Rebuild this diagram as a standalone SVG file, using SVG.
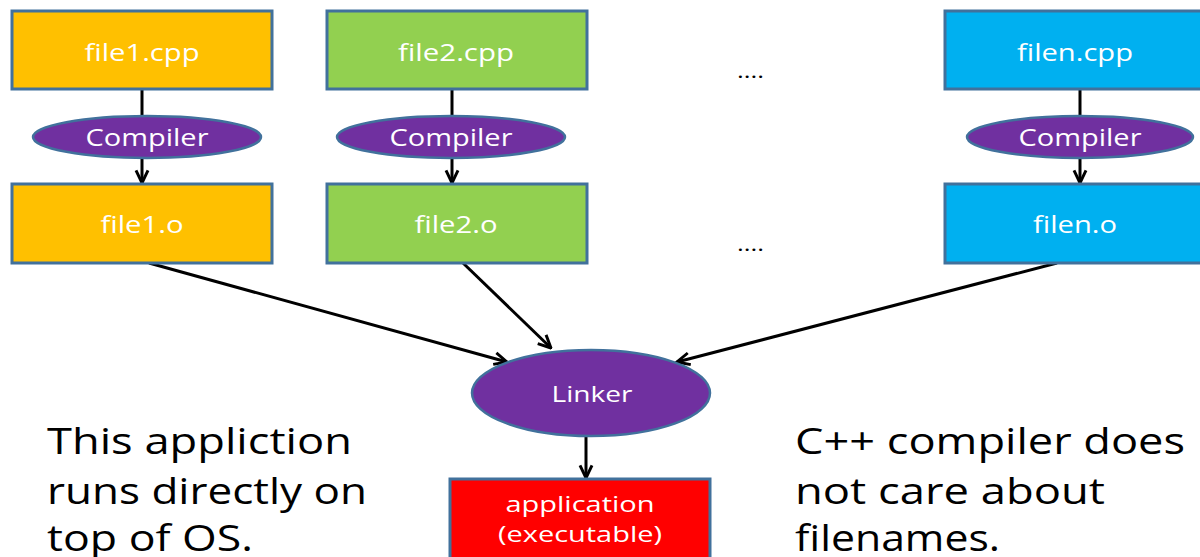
<svg xmlns="http://www.w3.org/2000/svg" width="1200" height="557" viewBox="0 0 1200 557">
<style>
.box{stroke:#41719C;stroke-width:3}
.ell{fill:#7030A0;stroke:#41719C;stroke-width:2.5}
.lbl{font-family:"Open Sans","Noto Sans",sans-serif;fill:#ffffff;text-anchor:middle}
.big{font-family:"Open Sans","Noto Sans",sans-serif;fill:#000000;font-size:37px}
.dots{font-family:"Open Sans","Noto Sans",sans-serif;fill:#000000;font-size:20px}
.con{stroke:#000000;stroke-width:3;fill:none}
</style>
<defs>
<marker id="arr" viewBox="0 0 12 12" refX="11" refY="6" markerWidth="16" markerHeight="16" markerUnits="userSpaceOnUse" orient="auto">
<path d="M1.5,1.5 L11,6 L1.5,10.5" fill="none" stroke="#000" stroke-width="2.2"/>
</marker>
</defs>
<rect width="1200" height="557" fill="#ffffff"/>
<g id="connectors">
<line class="con" x1="142" y1="89" x2="142" y2="116"/>
<line class="con" x1="142" y1="158" x2="142" y2="183" marker-end="url(#arr)"/>
<line class="con" x1="452" y1="89" x2="452" y2="116"/>
<line class="con" x1="452" y1="158" x2="452" y2="183" marker-end="url(#arr)"/>
<line class="con" x1="1080" y1="89" x2="1080" y2="116"/>
<line class="con" x1="1080" y1="158" x2="1080" y2="183" marker-end="url(#arr)"/>
<line class="con" x1="149" y1="263" x2="507" y2="362" marker-end="url(#arr)"/>
<line class="con" x1="463" y1="263" x2="551" y2="348" marker-end="url(#arr)"/>
<line class="con" x1="1057" y1="263" x2="677" y2="362" marker-end="url(#arr)"/>
<line class="con" x1="586" y1="437" x2="586" y2="478" marker-end="url(#arr)"/>
</g>
<g id="file1cpp"><rect class="box" x="12" y="11" width="260" height="78" fill="#FFC000"/><text class="lbl" x="142" y="61" font-size="24" textLength="115" lengthAdjust="spacingAndGlyphs">file1.cpp</text></g>
<g id="compiler1"><ellipse class="ell" cx="147" cy="137" rx="114" ry="21"/><text class="lbl" x="147" y="146" font-size="23" textLength="123" lengthAdjust="spacingAndGlyphs">Compiler</text></g>
<g id="file1o"><rect class="box" x="12" y="184" width="260" height="79" fill="#FFC000"/><text class="lbl" x="142" y="233" font-size="24" textLength="83" lengthAdjust="spacingAndGlyphs">file1.o</text></g>
<g id="file2cpp"><rect class="box" x="327" y="11" width="260" height="78" fill="#92D050"/><text class="lbl" x="456" y="61" font-size="24" textLength="116" lengthAdjust="spacingAndGlyphs">file2.cpp</text></g>
<g id="compiler2"><ellipse class="ell" cx="451" cy="137" rx="114" ry="21"/><text class="lbl" x="451" y="146" font-size="23" textLength="123" lengthAdjust="spacingAndGlyphs">Compiler</text></g>
<g id="file2o"><rect class="box" x="327" y="184" width="260" height="79" fill="#92D050"/><text class="lbl" x="456" y="233" font-size="24" textLength="83" lengthAdjust="spacingAndGlyphs">file2.o</text></g>
<g id="filencpp"><rect class="box" x="945" y="11" width="260" height="78" fill="#00B0F0"/><text class="lbl" x="1075" y="61" font-size="24" textLength="116" lengthAdjust="spacingAndGlyphs">filen.cpp</text></g>
<g id="compilern"><ellipse class="ell" cx="1080" cy="137" rx="113" ry="21"/><text class="lbl" x="1080" y="146" font-size="23" textLength="123" lengthAdjust="spacingAndGlyphs">Compiler</text></g>
<g id="fileno"><rect class="box" x="945" y="184" width="260" height="79" fill="#00B0F0"/><text class="lbl" x="1075" y="233" font-size="24" textLength="84" lengthAdjust="spacingAndGlyphs">filen.o</text></g>
<g id="dots1"><text class="dots" x="737" y="78" textLength="27" lengthAdjust="spacingAndGlyphs">....</text></g>
<g id="dots2"><text class="dots" x="737" y="251" textLength="27" lengthAdjust="spacingAndGlyphs">....</text></g>
<g id="linker"><ellipse class="ell" cx="591" cy="393" rx="119" ry="43"/><text class="lbl" x="592" y="402" font-size="22" textLength="81" lengthAdjust="spacingAndGlyphs">Linker</text></g>
<g id="application"><rect class="box" x="450" y="479" width="260" height="95" fill="#FF0000"/><text class="lbl" x="580" y="512" font-size="22" textLength="149" lengthAdjust="spacingAndGlyphs">application</text><text class="lbl" x="580" y="542" font-size="22" textLength="164" lengthAdjust="spacingAndGlyphs">(executable)</text></g>
<g id="note-left">
<text class="big" x="47" y="454" textLength="305" lengthAdjust="spacingAndGlyphs">This appliction</text>
<text class="big" x="47" y="504" textLength="320" lengthAdjust="spacingAndGlyphs">runs directly on</text>
<text class="big" x="47" y="551" textLength="206" lengthAdjust="spacingAndGlyphs">top of OS.</text>
</g>
<g id="note-right">
<text class="big" x="795" y="454" textLength="390" lengthAdjust="spacingAndGlyphs">C++ compiler does</text>
<text class="big" x="795" y="504" textLength="310" lengthAdjust="spacingAndGlyphs">not care about</text>
<text class="big" x="795" y="551" textLength="205" lengthAdjust="spacingAndGlyphs">filenames.</text>
</g>
</svg>
